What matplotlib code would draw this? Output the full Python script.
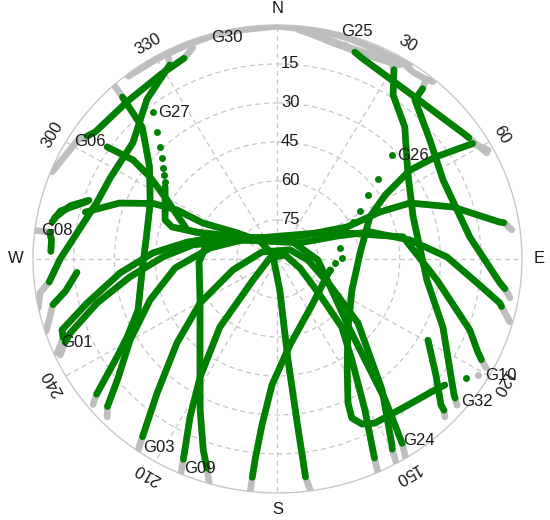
import numpy as np
import matplotlib.pyplot as plt

plt.rcParams['font.family'] = ['Liberation Sans', 'DejaVu Sans']

# satellite tracks: (azimuth deg, elevation deg)
hz_g30 = [(322, 0.8), (330, 1.2), (338, 1.2), (345, 0.8), (352, 0.8), (358, 0.5)]
hz_g25a = [(348, 0.5), (0, 0.5), (10, 0.8), (17, 1.2), (25, 1.5), (30.5, 1.5), (33, 0.8)]
hz_g25b = [(5, 1.5), (12, 3.5), (18, 4.5), (24, 4.0), (29, 3.5)]
hz_g25c = [(8, 2.5), (14, 4.5), (20, 5.0), (26, 4.5), (31, 3.0)]
hz_ne = [(31, 1.5), (35, 2.5), (38, 2.0), (40, 1.0)]
nw_low1 = [(292, 0.5), (302, 3.5), (304, 5.5), (306, 7), (318, 8), (329, 7), (336, 5.5), (339, 3)]
nw_low2 = [(333, 1), (332, 5.5), (322, 12), (310, 20.5), (297, 21), (288, 20), (270, 10),
           (264, 5.5), (261.5, 1.6), (258, 0)]
nw_sw = [(318, 0.5), (317.5, 5.5), (315.5, 19), (307, 31), (294.5, 38.5), (280, 41), (265, 40),
         (249, 35), (241.5, 27), (237.5, 20), (232, 5.5), (230.5, 2)]
w_short = [(266, 16), (261, 11), (258, 5.5), (252, 0.5)]
g08a = [(277, 0.5), (277, 5.5), (275, 6.5), (272, 6.5)]
g08b = [(279.7, 5.8), (283, 8), (287.5, 16.5)]
g08c = [(281, 6.5), (285, 11), (288, 17)]
w_arc = [(284.3, 17), (290.3, 28), (295, 39.5), (297, 48.5), (296.7, 59.3), (304, 72), (317, 80.6),
         (311, 87.7), (176, 78), (174.3, 51), (173.4, 25), (173, 7), (173, 5.5), (172.3, 0.5)]
g01a = [(246, 1.3), (249, 5.5), (251, 6.1), (256.4, 17.9), (264.7, 31.8), (272.9, 44.1), (281, 56.1),
        (291.9, 67.2), (341, 81.4), (43.3, 77.9), (64.3, 61.6), (64.4, 48.2), (66.2, 36.7),
        (72.8, 22.4), (80.2, 6.9), (80.5, 5.5), (82.6, 3)]
g01b = [(245.2, 1.9), (247.7, 5.5), (249.5, 8.5), (255.7, 21.5), (262.8, 35.3), (271.1, 47.9),
        (279.9, 58.4), (297.9, 74.4), (53.2, 79.6), (68.1, 66.4), (73, 54.4), (81.5, 40.7),
        (89.3, 27.6), (97.1, 16), (101.7, 6.4), (102.5, 5.5), (105.8, 1.1)]
ne_ese = [(38.6, 2.9), (39.2, 5.5), (39.6, 10.6), (50.8, 17.6), (63.5, 21.9), (83.2, 18.7),
          (96.4, 7.6), (97.8, 5.5), (99.9, 3.1)]
g32 = [(28.5, 3), (30.5, 5.5), (34, 13.9), (42.7, 20.9), (55.4, 31.7), (72, 37.5), (98.4, 34.4),
       (113.3, 23.7), (123.9, 13.5), (128.8, 6.6), (129.3, 5.5), (130.4, 3.2)]
ne_low = [(16.8, 4), (19.7, 5.5), (21.9, 6.7), (38.1, 9.8), (54.6, 6.3), (56.5, 5.5), (62.1, 2.8)]
g10 = [(61.6, 1.9), (58.3, 5.5), (56, 20), (55, 30.4), (58.2, 43.4), (64.5, 52.3), (85.7, 59.5),
       (113.5, 60.1), (136.5, 52.4), (149, 40.2), (154.9, 28.8), (155.9, 23), (153.9, 19.3),
       (150.4, 17.4), (140.5, 16.3), (131, 13.2), (128.2, 11.6)]
g10_dots = [(123.4, 6.9), (121.1, 3.8)]
g26_dots = [(46.5, 31.9), (50.2, 41.9), (53.5, 48.6), (58.7, 54.4), (62.9, 58.8), (79.7, 66.6),
            (89, 66.3), (94, 68.8), (102.3, 70.2)]
g26 = [(102.3, 70.2), (144.3, 68.2), (172.1, 56.6), (182.4, 41.5), (185.1, 25.9), (186.1, 12.3),
       (186.3, 5.5), (186.4, 0.3)]
g27_dots = [(321, 17.3), (317.8, 24.1), (314.9, 29), (312.4, 32.4), (309.7, 35.2), (307.7, 37.2),
            (305.6, 39.1)]
g27 = [(303.8, 40.2), (289.9, 46), (287.6, 49.3), (288.9, 57.9), (301.6, 73.8), (322, 80.7)]
g09b = [(196.3, 0.3), (197.9, 5.5), (200.4, 11.6), (206.1, 25.3), (216.3, 41.8), (241, 57.4),
        (267.6, 61.1), (278.9, 63), (292.6, 71), (341.8, 81.1), (61.7, 68.1), (79.6, 43),
        (97.9, 30.7), (111.1, 14.1), (115.9, 8), (117.3, 5.5), (118.6, 2.6)]
g09a = [(203.4, 0.7), (204.2, 5.5), (207.9, 21.2), (212.1, 36.4), (219, 56.3), (228, 77.9),
        (278, 87.2), (61.8, 86.8), (112.9, 81), (131.5, 69.2), (137.9, 54.7), (144.8, 42.5),
        (151, 23.6), (154.8, 6.7), (155, 5.5), (155.7, 0.3)]
g03 = [(214.9, 0.3), (216, 5.5), (220.7, 22.1), (228.9, 40.9), (239.3, 56.9), (255.6, 73.1),
       (295.3, 83.7), (52.7, 84.2), (92, 78.8), (117.4, 68.3), (129.7, 51.5), (142.6, 26.6),
       (149.5, 7), (150, 5.5), (150.8, 0.6)]
sw_se = [(225.9, 2.7), (227.8, 5.5), (232, 15.5), (240.1, 27.4), (251.4, 40.5), (264.7, 52.1),
         (279.6, 64.8), (308.7, 77.1), (32.2, 81.4), (91.5, 75.1), (135.6, 51.8), (143.8, 22.9),
         (147.1, 5.5), (148.3, 0.3)]
se_short = [(119.4, 26.4), (127.4, 16.6), (133, 7.7), (133.5, 5.5), (134.6, 3.5)]
g06 = [(304.5, 13.9), (305.6, 24.6), (303.9, 33.5), (299.2, 43.4), (288.6, 54.9), (292.6, 71),
       (32.2, 81.4)]

tracks = [hz_g30, hz_g25a, hz_g25b, hz_g25c, hz_ne, nw_low1, nw_low2, nw_sw, w_short,
          g08a, g08b, g08c, w_arc, g01a, g01b, ne_ese, g32, ne_low, g10, g26, g27,
          g09b, g09a, g03, sw_se, se_short, g06]
dot_sets = [g10_dots, g26_dots, g27_dots]

sat_names = ['G30', 'G25', 'G27', 'G06', 'G26', 'G08', 'G01', 'G10', 'G32', 'G24', 'G03', 'G09']
label_az = [347.7, 18.5, 325.9, 303.3, 51.3, 277.6, 246.4, 118.7, 126.8, 143.3, 211, 199.5]
label_el = [3.0, -2.1, 22.1, 7.4, 26.1, 8.2, 9.4, -3.7, -1.7, 2.7, 5.2, 4.7]

ring_el = [15, 30, 45, 60, 75]
cardinal = {0: 'N', 90: 'E', 180: 'S', 270: 'W'}

CUT = 5.5          # below this elevation the track is drawn grey
GREEN = '#008000'
GREY = '#bebebe'

fig = plt.figure(figsize=(5.5, 5.2), dpi=100)
ax = fig.add_axes([0.06, 0.052, 0.889, 0.9], projection='polar')
ax.set_aspect('auto')
ax.set_theta_zero_location('N')
ax.set_theta_direction(-1)
ax.set_ylim(0, 90)
ax.set_xticks(np.radians(np.arange(0, 360, 30)))
ax.set_yticks([90 - e for e in ring_el])
ax.set_xticklabels([])
ax.set_yticklabels([])
ax.grid(True, color='#c6c6c6', lw=0.9, ls=(0, (4, 3)))
ax.spines['polar'].set_color('#c8c8c8')
ax.spines['polar'].set_linewidth(1.0)

for trk in tracks:
    az, el = np.array(trk, dtype=float).T
    th = np.radians(az)
    ax.plot(th, 90 - el, color=GREY, lw=4.8, solid_capstyle='round',
            solid_joinstyle='round', zorder=3)
    ax.plot(th, np.where(el >= CUT, 90 - el, np.nan), color=GREEN, lw=4.8,
            solid_capstyle='round', solid_joinstyle='round', zorder=4)

for dots in dot_sets:
    az, el = np.array(dots, dtype=float).T
    hi = el >= CUT
    ax.plot(np.radians(az[hi]), 90 - el[hi], 'o', color=GREEN, ms=5, mec='none', zorder=4)
    ax.plot(np.radians(az[~hi]), 90 - el[~hi], 'o', color=GREY, ms=5, mec='none', zorder=3)

for a in range(0, 360, 30):
    if a in cardinal:
        ax.text(np.radians(a), 96.5, cardinal[a], ha='center', va='center',
                fontsize=12, color='#1a1a1a')
    else:
        ax.text(np.radians(a), 95.5, str(a), rotation=-a, rotation_mode='anchor',
                ha='center', va='center', fontsize=12, color='#1a1a1a')

for e in ring_el:
    ax.annotate(str(e), xy=(0, 90 - e), xytext=(2.5, 0), textcoords='offset points',
                ha='left', va='center', fontsize=12, color='#1a1a1a', zorder=6)

for name, a, e in zip(sat_names, label_az, label_el):
    ax.text(np.radians(a), 90 - e, name, ha='center', va='center',
            fontsize=12, color='#1a1a1a', zorder=6)

fig.savefig('out.png', dpi=100)
